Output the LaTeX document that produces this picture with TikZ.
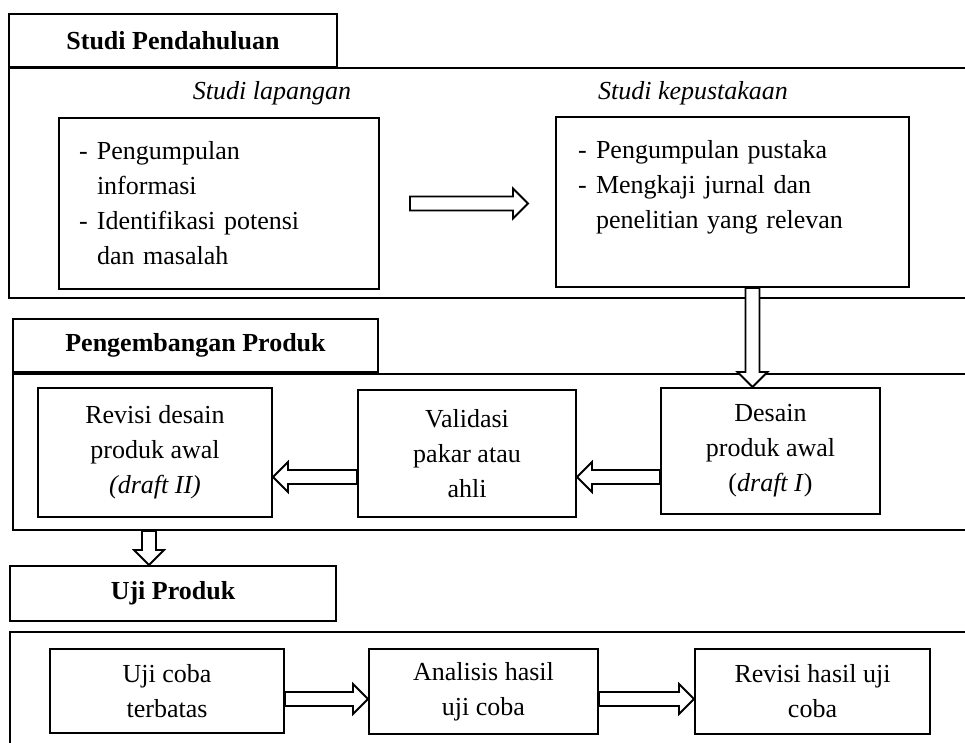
\documentclass[tikz,border=0pt]{standalone}
\usepackage{fontspec}
\setmainfont{Liberation Serif}
\usetikzlibrary{calc}
\newcommand\bodyfont{\fontsize{26}{35}\selectfont}
\newcommand\itemdash[1]{\makebox[18pt][l]{-}#1}
\newcommand\itemcont[1]{\hspace*{18pt}#1}
\tikzstyle{frame}=[draw, line width=2pt, anchor=north west, inner sep=0pt]
\tikzstyle{head}=[draw, line width=2pt, anchor=north west, inner sep=0pt, font=\bodyfont\bfseries]
\tikzstyle{box}=[draw, line width=2pt, anchor=north west, inner sep=0pt, align=center, font=\bodyfont]
\tikzstyle{fat}=[draw, line width=1.8pt, line join=miter, fill=white]
\newcommand\fatarrow[2]{%
  \coordinate (fh) at ($(#2)!15pt!(#1)$);
  \draw[fat] ($(#1)!7pt!90:(#2)$) -- ($(fh)!7pt!-90:(#1)$) -- ($(fh)!15pt!-90:(#1)$) -- (#2)
    -- ($(fh)!15pt!90:(#1)$) -- ($(fh)!7pt!90:(#1)$) -- ($(#1)!7pt!-90:(#2)$) -- cycle;}

\begin{document}
\begin{tikzpicture}[x=1pt, y=-1pt]
                    \useasboundingbox (0,0) rectangle (965,743);
                    \clip (0,0) rectangle (965,743);
                    % frames
                    \node[frame, minimum width=1000, minimum height=230] (f1) at (8,67) {};
                    \node[frame, minimum width=1000, minimum height=156] (f2) at (12,373) {};
                    \node[frame, minimum width=1000, minimum height=200] (f3) at (9,631) {};
                    % headers
                    \node[head, minimum width=328, minimum height=53] (1) at (8,13) {Studi Pendahuluan};
                    \node[head, minimum width=365, minimum height=53] (2) at (12,318) {Pengembangan Produk};
                    \node[head, minimum width=326, minimum height=55] (3) at (9,565) {Uji Produk};
                    % studi pendahuluan
                    \node[font=\bodyfont\itshape] (l11) at (272,93) {Studi lapangan};
                    \node[font=\bodyfont\itshape] (l12) at (693,93) {Studi kepustakaan};
                    \node[box, align=left, text width=280, minimum width=320, minimum height=171] (11) at (58,117)
                        {\itemdash{Pengumpulan}\\\itemcont{informasi}\\\itemdash{Identifikasi potensi}\\\itemcont{dan masalah}};
                    \node[box, align=left, text width=309, minimum width=353, minimum height=170] (12) at (555,116)
                        {\itemdash{Pengumpulan pustaka}\\\itemdash{Mengkaji jurnal dan}\\\itemcont{penelitian yang relevan}\\\mbox{}};
                    % pengembangan produk
                    \node[box, minimum width=234, minimum height=129] (21) at (37,387) {Revisi desain\\produk awal\\\textit{(draft II)}};
                    \node[box, minimum width=218, minimum height=127] (22) at (357,389) {Validasi\\pakar atau\\ahli};
                    \node[box, minimum width=219, minimum height=126] (23) at (660,387) {Desain\\produk awal\\(\textit{draft I})};
                    % uji produk
                    \node[box, minimum width=234, minimum height=84] (31) at (49,648) {Uji coba\\terbatas};
                    \node[box, minimum width=229, minimum height=85] (32) at (368,648) {Analisis hasil\\uji coba};
                    \node[box, minimum width=235, minimum height=85] (33) at (694,648) {Revisi hasil uji\\coba};
                    % arrows
                    \coordinate (a1) at ([xshift=30pt]11.east);
                    \coordinate (a2) at ($(a1 -| 12.west)+(-27,0)$);
                    \coordinate (v1) at ([xshift=20pt]12.south);
                    \coordinate (v2) at (v1 |- 23.north);
                    \coordinate (b1) at ([yshift=-26pt]23.west);
                    \coordinate (b2) at (b1 -| 22.east);
                    \coordinate (b3) at (b1 -| 22.west);
                    \coordinate (b4) at (b1 -| 21.east);
                    \coordinate (d2) at ([xshift=-24pt]3.north);
                    \coordinate (d1) at (d2 |- f2.south);
                    \coordinate (c1) at ([yshift=-8pt]31.east);
                    \coordinate (c2) at (c1 -| 32.west);
                    \coordinate (c3) at (c1 -| 32.east);
                    \coordinate (c4) at (c1 -| 33.west);
                    \fatarrow{a1}{a2}
                    \fatarrow{v1}{v2}
                    \fatarrow{b1}{b2}
                    \fatarrow{b3}{b4}
                    \fatarrow{d1}{d2}
                    \fatarrow{c1}{c2}
                    \fatarrow{c3}{c4}
                \end{tikzpicture}
\end{document}
